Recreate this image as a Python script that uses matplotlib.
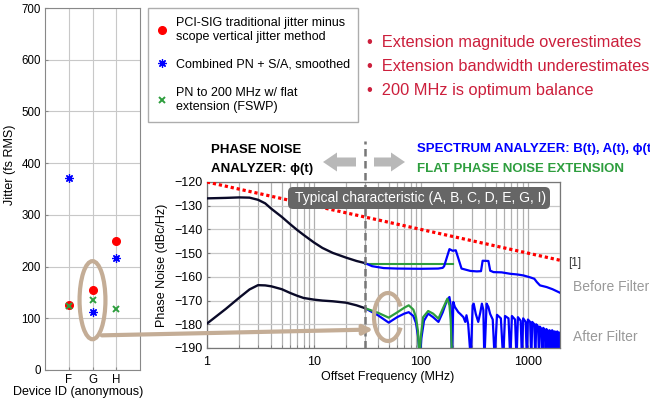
import matplotlib
matplotlib.use("Agg")
import matplotlib.pyplot as plt
from matplotlib.patches import Ellipse, Arc, FancyArrow, FancyBboxPatch, ConnectionPatch
from matplotlib.ticker import LogLocator, NullFormatter

plt.rcParams['font.family'] = ['Liberation Sans', 'DejaVu Sans']

# --- datos del panel izquierdo (jitter por dispositivo) ---
devices = ['F', 'G', 'H']
jit_pcisig = [125, 155, 249]
jit_combined = [372, 113, 217]
jit_flat = [124, 135, 118]

# --- datos del panel de ruido de fase ---
pn_f = [1, 1.5, 2, 2.5, 3, 3.5, 4, 5, 6, 7, 8, 10, 12, 15, 20, 25, 30]
pn_before = [-126.9, -126.7, -126.5, -126.6, -127.5, -129.0, -131.3, -134.7, -137.8,
             -140.3, -142.3, -145.5, -147.8, -149.9, -151.9, -153.3, -154.2]
pn_after = [-179.7, -173.5, -168.8, -165.3, -163.5, -163.6, -164.0, -165.2, -166.8,
            -168.0, -168.9, -169.6, -170.0, -170.3, -170.9, -172.0, -173.2]

sa_before_f = [30, 35, 45, 60, 100, 145, 160, 165, 185, 198, 212, 240, 290, 334, 365,
               378, 428, 445, 478, 569, 684, 800, 910, 1050, 1150, 1215, 1300, 1500,
               1700, 2000]
sa_before = [-154.2, -155.5, -156.3, -156.5, -156.6, -156.5, -156.2, -155.5, -148.3,
             -149.0, -148.8, -156.5, -157.5, -157.7, -157.6, -153.2, -153.3, -157.4,
             -158.0, -158.1, -158.7, -159.0, -159.4, -160.2, -160.8, -162.2, -163.6,
             -164.3, -165.2, -166.7]

flat_before_f = [30, 200]
flat_before = [-154.4, -154.4]

flat_after_f = [30, 40, 50, 60, 70, 77, 85, 90, 94, 97, 100, 105, 117, 130, 146, 160,
                177, 185, 190, 196]
flat_after = [-173.2, -175.2, -177.2, -175.0, -173.0, -172.0, -173.8, -177.0, -183.0,
              -195, -185, -177.0, -174.4, -175.5, -177.6, -173.5, -169.2, -172.0,
              -178.0, -195]

sa_after_f = [30, 40, 50, 60, 70, 77, 85, 90, 94, 98, 101, 107, 117, 130, 146, 160, 175,
              185, 190, 195,
              201, 208, 224, 233, 250, 260, 267, 277, 293,
              305, 312, 326, 344, 360, 372, 384, 392,
              412, 428, 444, 470, 490,
              515, 560, 588, 612, 660, 686, 710, 760, 784, 808, 858, 882, 905, 955, 980,
              1002, 1052, 1078, 1100, 1150, 1176, 1198, 1248, 1274, 1296, 1346, 1372,
              1394, 1444, 1470, 1492, 1542, 1568, 1590, 1640, 1666, 1688, 1738, 1764,
              1786, 1836, 1862, 1884, 1934, 1960, 1980, 2000]
sa_after = [-173.2, -176.3, -179.3, -177.0, -175.5, -174.9, -176.5, -179.5, -185, -195,
            -186, -178.5, -175.5, -177.0, -179.0, -175.0, -170.0, -168.5, -172.0, -195,
            -170.6, -172.7, -174.9, -175.6, -177.0, -179.0, -176.2, -180.0, -195,
            -172.0, -171.3, -175.6, -179.0, -174.9, -171.3, -174.0, -195,
            -171.3, -172.7, -175.6, -178.0, -195,
            -176.0, -177.5, -195, -176.5, -177.5, -195, -176.5, -178.0, -195,
            -177.0, -178.5, -195, -177.5, -179.0, -195,
            -178.0, -179.0, -195, -179.0, -180.0, -195, -180.0, -181.0, -195,
            -181.0, -182.0, -195,
            -181.5, -182.5, -195, -182.0, -183.0, -195, -182.5, -183.0, -195,
            -182.5, -183.5, -195,
            -183.0, -183.5, -195, -183.0, -184.0, -195, -183.5, -184.5]

ref_f = [1, 2000]
ref_db = [-120, -153]

# colores
rojo = '#ff0000'
azul = '#0000ff'
verde = '#2e9e3e'
negro = '#0a0a28'
tan = '#c4ad96'
gris_txt = '#999999'

W, H = 650, 401
fig = plt.figure(figsize=(6.5, 4.01), dpi=100)

def caja(x0, y0, x1, y1):
    # pixeles -> fraccion de figura
    return [x0 / W, 1 - y1 / H, (x1 - x0) / W, (y1 - y0) / H]

# ---------------- panel izquierdo ----------------
ax1 = fig.add_axes(caja(45, 8, 140, 370))
x_dev = [1, 2, 3]
l1, = ax1.plot(x_dev, jit_pcisig, 'o', color=rojo, ms=5.5, ls='none', zorder=3,
               label='PCI-SIG traditional jitter minus\nscope vertical jitter method')
l2, = ax1.plot(x_dev, jit_combined, marker=(8, 2, 0), color=azul, ms=6, mew=0.9, ls='none',
               zorder=3, label='Combined PN + S/A, smoothed')
l3, = ax1.plot(x_dev, jit_flat, 'x', color=verde, ms=5, mew=1.4, ls='none', zorder=4,
               label='PN to 200 MHz w/ flat\nextension (FSWP)')
ax1.set_xlim(0, 4)
ax1.set_ylim(0, 700)
ax1.set_xticks(x_dev)
ax1.set_xticklabels(devices)
ax1.set_yticks(range(0, 701, 100))
ax1.grid(True, color='#c8c8c8', lw=0.8)
ax1.tick_params(labelsize=8.3, direction='in', length=2, color='#888888', pad=3)
for s in ax1.spines.values():
    s.set_color('#888888')
    s.set_linewidth(0.8)
ax1.set_ylabel('Jitter (fs RMS)', fontsize=9)
ax1.yaxis.set_label_coords(-0.30, 0.566)
ax1.set_xlabel('Device ID (anonymous)', fontsize=9)
ax1.xaxis.set_label_coords(0.35, -0.045)

leg = ax1.legend(handles=[l1, l2, l3], loc='upper left',
                 bbox_to_anchor=(148 / W, 1 - 8 / H), bbox_transform=fig.transFigure,
                 borderaxespad=0, fontsize=9.0, frameon=True, fancybox=False,
                 edgecolor='#999999', handlelength=0.8, handletextpad=0.7,
                 borderpad=0.7, labelspacing=1.3)
leg.get_frame().set_linewidth(1.0)

ax1.add_patch(Ellipse((2, 135), width=1.09, height=151, fill=False, ec=tan, lw=3,
                      clip_on=False, zorder=5))

# ---------------- panel de ruido de fase ----------------
ax2 = fig.add_axes(caja(207, 182, 560, 348))
ax2.set_xscale('log')
ax2.plot(ref_f, ref_db, color=rojo, lw=2.3, ls=(0, (1, 0.9)), zorder=3)
ax2.plot(pn_f, pn_before, color=negro, lw=1.7, zorder=4)
ax2.plot(pn_f, pn_after, color=negro, lw=1.7, zorder=4)
ax2.plot(flat_before_f, flat_before, color=verde, lw=1.5, zorder=3)
ax2.plot(sa_before_f, sa_before, color=azul, lw=1.6, zorder=4)
ax2.plot(flat_after_f, flat_after, color=verde, lw=1.6, zorder=3)
ax2.plot(sa_after_f, sa_after, color=azul, lw=1.6, zorder=2.5)
ax2.plot([30, 30], [-190, -102.5], color='#777777', lw=1.8, ls=(0, (3, 1.8)),
         clip_on=False, zorder=5)
ax2.set_xlim(1, 2000)
ax2.set_ylim(-190, -120)
ax2.set_yticks(range(-190, -119, 10))
ax2.set_xticks([1, 10, 100, 1000])
ax2.set_xticklabels(['1', '10', '100', '1000'])
ax2.xaxis.set_minor_locator(LogLocator(base=10, subs=range(2, 10), numticks=20))
ax2.xaxis.set_minor_formatter(NullFormatter())
ax2.grid(True, which='both', axis='x', color='#b0b0b0', lw=0.9)
ax2.grid(True, which='major', axis='y', color='#c8c8c8', lw=0.9)
ax2.tick_params(which='both', labelsize=9, direction='in', length=2, color='#777777')
ax2.tick_params(axis='x', pad=6)
for s in ax2.spines.values():
    s.set_color('#777777')
    s.set_linewidth(0.9)
ax2.set_xlabel('Offset Frequency (MHz)', fontsize=9)
ax2.xaxis.set_label_coords(0.513, -0.14)
ax2.set_ylabel('Phase Noise (dBc/Hz)', fontsize=9)

# flecha de G hacia la region de 30 MHz
con = ConnectionPatch(xyA=(2.39, 67), coordsA=ax1.transData,
                      xyB=(35.8, -182.2), coordsB=ax2.transData,
                      arrowstyle='-|>', mutation_scale=14, lw=3, color=tan, zorder=6)
fig.add_artist(con)

# ---------------- capa de anotaciones en pixeles ----------------
deco = fig.add_axes([0, 0, 1, 1], zorder=10)
deco.set_xlim(0, W)
deco.set_ylim(H, 0)
deco.axis('off')
deco.patch.set_alpha(0)

deco.add_patch(FancyArrow(356, 162, -33, 0, width=9, head_width=19, head_length=14,
                          length_includes_head=True, color='#b8b8b8', lw=0))
deco.add_patch(FancyArrow(374, 162, 31, 0, width=9, head_width=19, head_length=14,
                          length_includes_head=True, color='#b8b8b8', lw=0))
deco.add_patch(Arc((388, 317), 28, 48, theta1=40, theta2=320, color=tan, lw=3))

deco.add_patch(FancyBboxPatch((290, 189), 258, 18, boxstyle='round,pad=2,rounding_size=5',
                              fc='#666666', ec='none'))
deco.text(421, 198, 'Typical characteristic (A, B, C, D, E, G, I)', color='white',
          fontsize=10, ha='center', va='center')

deco.text(211, 150, 'PHASE NOISE', fontsize=9.5, fontweight='bold', va='center')
deco.text(211, 169, 'ANALYZER: ϕ(t)', fontsize=9.5, fontweight='bold', va='center')
# en la referencia este texto queda cortado por el borde derecho
deco.text(417, 149, 'SPECTRUM ANALYZER: B(t), A(t), ϕ(t)', fontsize=9.5,
          fontweight='bold', color=azul, va='center', clip_on=False)
deco.text(417, 169, 'FLAT PHASE NOISE EXTENSION', fontsize=9.5, fontweight='bold',
          color=verde, va='center')

bullets = ['Extension magnitude overestimates', 'Extension bandwidth underestimates',
           '200 MHz is optimum balance']
for i, b in enumerate(bullets):
    deco.text(367, 42 + 24.5 * i, '•  ' + b, fontsize=11.8, color='#cc1f3c', va='center')

deco.text(568, 263, '[1]', fontsize=8.5, color='#333333', va='center')
deco.text(573, 287, 'Before Filter', fontsize=10, color=gris_txt, va='center')
deco.text(573, 337, 'After Filter', fontsize=10, color=gris_txt, va='center')

fig.savefig('out.png', dpi=100)
